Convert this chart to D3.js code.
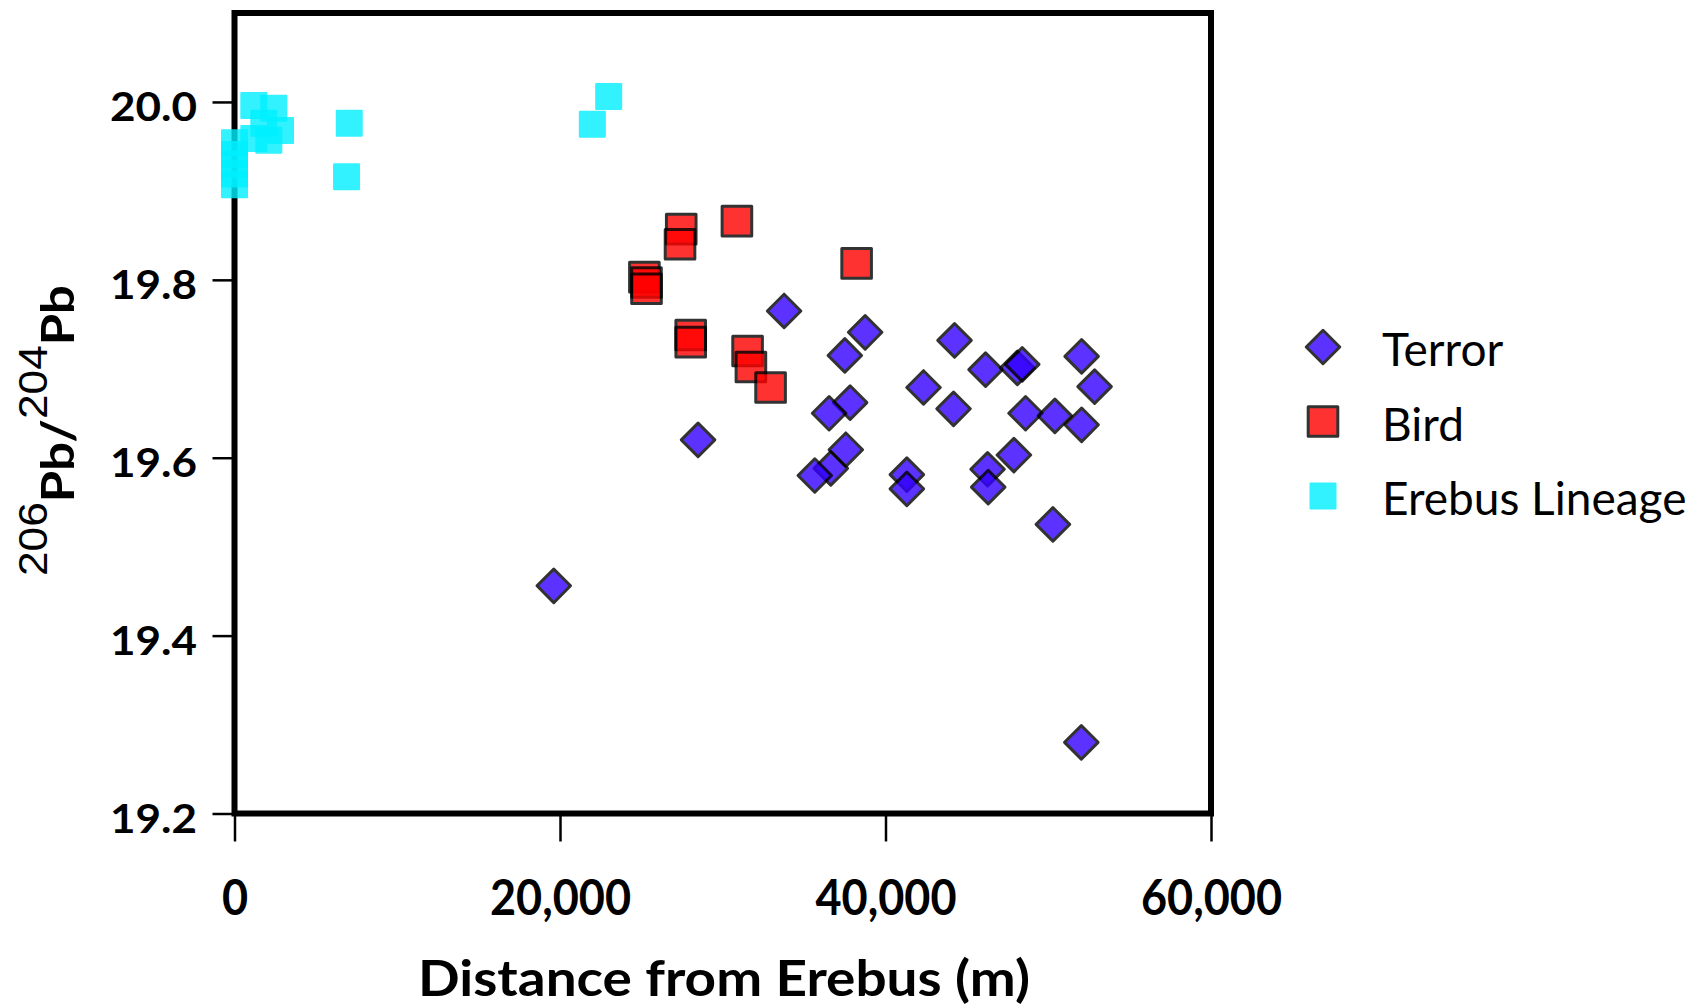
<!DOCTYPE html>
<html>
<head>
<meta charset="utf-8">
<script src="https://cdn.jsdelivr.net/npm/d3@7.9.0/dist/d3.min.js"></script>
<style>
  html, body { margin: 0; padding: 0; background: #fff; }
  svg { display: block; }
</style>
</head>
<body>
<svg id="chart" width="1700" height="1007"></svg>
<script>
// values
const terrorDist = [33770, 28483, 38750, 37500, 37826, 36535, 37562, 36638, 35655, 41311, 41311, 42336, 44180, 44242,
  46148, 48100, 48400, 48606, 50408, 52050, 52050, 52848, 47889, 46271, 46310, 50285, 19617, 52032];
const terrorPb = [19.765, 19.620, 19.741, 19.715, 19.662, 19.650, 19.609, 19.588, 19.580, 19.581, 19.565, 19.679, 19.655, 19.732,
  19.699, 19.701, 19.705, 19.650, 19.647, 19.637, 19.714, 19.680, 19.603, 19.587, 19.567, 19.525, 19.456, 19.280];

const birdDist = [27449, 27375, 30871, 38226, 25185, 25315, 25315, 28032, 28032, 31526, 31730, 32939];
const birdPb = [19.857, 19.840, 19.866, 19.8185, 19.803, 19.797, 19.790, 19.738, 19.730, 19.720, 19.702, 19.679];

const erebusDist = [1186, 2416, 1801, 2828, 1186, 2109, 0, 0, 0, 0, 0, 7051, 6885, 21989, 22991];
const erebusPb = [19.996, 19.993, 19.976, 19.968, 19.959, 19.957, 19.954, 19.941, 19.930, 19.919, 19.907, 19.976, 19.916, 19.975, 20.006];

const xTicks = [0, 20000, 40000, 60000];
const yTicks = [19.2, 19.4, 19.6, 19.8, 20.0];
const seriesNames = ['Terror', 'Bird', 'Erebus Lineage'];

const svg = d3.select('#chart');

let x = d3.scaleLinear().domain([0, 60000]).range([234.5, 1211]);
let y = d3.scaleLinear().domain([19.2, 20.1]).range([813.5, 13]);

// marker looks
const looks = {
  'Terror': { shape: 'diamond', fill: '#3300ff', stroke: '#000', sw: 3, size: 562 },
  'Bird': { shape: 'square', fill: '#ff0000', stroke: '#000', sw: 3, size: 876 },
  'Erebus Lineage': { shape: 'square', fill: '#00f0ff', stroke: '#00f0ff', sw: 2, size: 625 }
};

function symbolPath(look) {
  return d3.symbol().type(d3.symbolSquare).size(look.size)();
}
function markTransform(look, px, py) {
  return look.shape === 'diamond'
    ? `translate(${px},${py}) rotate(45)`
    : `translate(${px},${py})`;
}

// frame
svg.append('rect')
  .attr('x', x(0))
  .attr('y', y(20.1))
  .attr('width', x(60000) - x(0))
  .attr('height', y(19.2) - y(20.1))
  .attr('fill', 'none')
  .attr('stroke', '#000')
  .attr('stroke-width', 6);

// y axis
let yAxis = svg.append('g')
  .attr('transform', `translate(${x(0)},0)`)
  .call(d3.axisLeft(y).tickValues(yTicks).tickSize(22).tickPadding(15.5).tickFormat(d3.format('.1f')));
yAxis.select('.domain').remove();
yAxis.selectAll('.tick line').attr('stroke', '#000').attr('stroke-width', 2.5);
yAxis.selectAll('.tick text')
  .attr('fill', '#000')
  .attr('dy', 19)
  .style('font-family', 'Lato, "Open Sans", sans-serif')
  .style('font-weight', 'bold')
  .style('font-size', '40px')
  .attr('textLength', 87)
  .attr('lengthAdjust', 'spacingAndGlyphs');

// x axis
let xAxis = svg.append('g')
  .attr('transform', `translate(0,${y(19.2)})`)
  .call(d3.axisBottom(x).tickValues(xTicks).tickSize(28).tickFormat(d3.format(',')));
xAxis.select('.domain').remove();
xAxis.selectAll('.tick line').attr('stroke', '#000').attr('stroke-width', 2.5);
xAxis.selectAll('.tick text')
  .attr('fill', '#000')
  .attr('y', 101.5)
  .attr('dy', 0)
  .style('font-family', 'Lato, "Open Sans", sans-serif')
  .style('font-weight', 'bold')
  .style('font-size', '50px')
  .each(function () {
    let w = this.getComputedTextLength();
    d3.select(this).attr('textLength', w * 0.9).attr('lengthAdjust', 'spacingAndGlyphs');
  });

// x title
svg.append('text')
  .attr('x', 724)
  .attr('y', 996)
  .attr('text-anchor', 'middle')
  .style('font-family', 'Lato, "Open Sans", sans-serif')
  .style('font-weight', 'bold')
  .style('font-size', '50px')
  .attr('textLength', 612)
  .attr('lengthAdjust', 'spacingAndGlyphs')
  .text('Distance from Erebus (m)');

// y title with superscripts
let yTitleG = svg.append('g');
let yTitle = yTitleG.append('text')
  .attr('text-anchor', 'middle')
  .style('font-family', 'Lato, "Open Sans", sans-serif')
  .style('font-weight', 'bold')
  .style('font-size', '46px');
const supStyle = (t) => t.style('font-family', '"Liberation Sans Narrow", "Liberation Sans", Arial, sans-serif')
  .style('font-weight', 'normal').style('font-size', '40px');
yTitle.append('tspan').attr('dy', -27).call(supStyle).text('206');
yTitle.append('tspan').attr('dy', 27).text('Pb/');
yTitle.append('tspan').attr('dy', -27).call(supStyle).text('204');
yTitle.append('tspan').attr('dy', 27).text('Pb');
let natLen = yTitle.node().getComputedTextLength();
yTitleG.attr('transform', `translate(74,430.5) rotate(-90) scale(${291 / natLen},1)`);

// points
function drawSeries(name, dists, pbs) {
  let look = looks[name];
  svg.append('g').selectAll('path')
    .data(dists.map((d, i) => ({ dist: d, pb: pbs[i] })))
    .join('path')
    .attr('d', symbolPath(look))
    .attr('transform', (d) => markTransform(look, x(d.dist), y(d.pb)))
    .attr('fill', look.fill)
    .attr('stroke', look.stroke)
    .attr('stroke-width', look.sw)
    .attr('stroke-linejoin', 'round')
    .attr('opacity', 0.8);
}
drawSeries('Erebus Lineage', erebusDist, erebusPb);
drawSeries('Bird', birdDist, birdPb);
drawSeries('Terror', terrorDist, terrorPb);

// legend
let legend = svg.append('g');
seriesNames.forEach((name, idx) => {
  let look = looks[name];
  let cy = 347 + idx * 74.5;
  legend.append('path')
    .attr('d', symbolPath(look))
    .attr('transform', markTransform(look, 1323, cy))
    .attr('fill', look.fill)
    .attr('stroke', look.stroke)
    .attr('stroke-width', look.sw)
    .attr('stroke-linejoin', 'round')
    .attr('opacity', 0.8);
  legend.append('text')
    .attr('x', 1382)
    .attr('y', cy + 19)
    .style('font-family', 'Lato, "Open Sans", sans-serif')
    .style('font-size', '46px')
    .text(name);
});
</script>
</body>
</html>
